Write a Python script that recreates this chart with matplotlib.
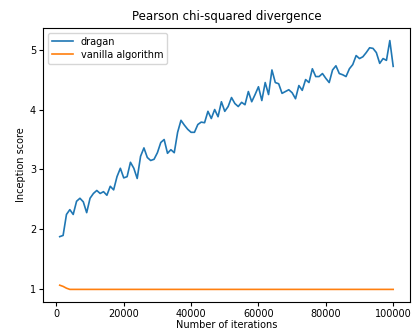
import numpy as np
import matplotlib
matplotlib.use('Agg')
import matplotlib.pyplot as plt

iterations = list(range(1000, 101000, 1000))

dragan = [
    1.88, 1.90, 2.25, 2.33, 2.25, 2.47, 2.52, 2.46, 2.28, 2.52,
    2.60, 2.65, 2.60, 2.63, 2.57, 2.72, 2.66, 2.88, 3.02, 2.86,
    2.88, 3.12, 3.02, 2.85, 3.22, 3.36, 3.20, 3.15, 3.17, 3.28,
    3.45, 3.50, 3.27, 3.33, 3.28, 3.62, 3.82, 3.74, 3.67, 3.62,
    3.62, 3.75, 3.79, 3.78, 3.97, 3.85, 4.00, 3.88, 4.13, 3.97,
    4.05, 4.20, 4.10, 4.05, 4.12, 4.08, 4.30, 4.13, 4.25, 4.38,
    4.15, 4.45, 4.25, 4.66, 4.45, 4.43, 4.27, 4.30, 4.33, 4.28,
    4.18, 4.40, 4.32, 4.50, 4.45, 4.68, 4.55, 4.55, 4.60, 4.52,
    4.45, 4.66, 4.73, 4.60, 4.58, 4.55, 4.68, 4.75, 4.90, 4.85,
    4.88, 4.95, 5.03, 5.02, 4.95, 4.77, 4.85, 4.82, 5.15, 4.72,
]

vanilla = [
    1.07, 1.05, 1.02, 1.00, 1.00, 1.00, 1.00, 1.00, 1.00, 1.00,
    1.00, 1.00, 1.00, 1.00, 1.00, 1.00, 1.00, 1.00, 1.00, 1.00,
    1.00, 1.00, 1.00, 1.00, 1.00, 1.00, 1.00, 1.00, 1.00, 1.00,
    1.00, 1.00, 1.00, 1.00, 1.00, 1.00, 1.00, 1.00, 1.00, 1.00,
    1.00, 1.00, 1.00, 1.00, 1.00, 1.00, 1.00, 1.00, 1.00, 1.00,
    1.00, 1.00, 1.00, 1.00, 1.00, 1.00, 1.00, 1.00, 1.00, 1.00,
    1.00, 1.00, 1.00, 1.00, 1.00, 1.00, 1.00, 1.00, 1.00, 1.00,
    1.00, 1.00, 1.00, 1.00, 1.00, 1.00, 1.00, 1.00, 1.00, 1.00,
    1.00, 1.00, 1.00, 1.00, 1.00, 1.00, 1.00, 1.00, 1.00, 1.00,
    1.00, 1.00, 1.00, 1.00, 1.00, 1.00, 1.00, 1.00, 1.00, 1.00,
]

fig = plt.figure(figsize=(4.14, 3.35), dpi=100)
ax = fig.add_axes([0.104, 0.099, 0.886, 0.817])

ax.plot(iterations, dragan, color='#1f77b4', lw=1.2, label='dragan')
ax.plot(iterations, vanilla, color='#ff7f0e', lw=1.2, label='vanilla algorithm')

ax.set_title('Pearson chi-squared divergence', fontsize=8.5)
ax.set_xlabel('Number of iterations', fontsize=7, labelpad=1)
ax.set_ylabel('Inception score', fontsize=7, labelpad=3)
ax.set_xticks([0, 20000, 40000, 60000, 80000, 100000])
ax.set_yticks([1, 2, 3, 4, 5])
ax.tick_params(labelsize=7, length=3, pad=2)
ax.legend(loc='upper left', fontsize=7, handlelength=2.2, borderpad=0.4,
          labelspacing=0.3)

fig.savefig('out.png', dpi=100)
